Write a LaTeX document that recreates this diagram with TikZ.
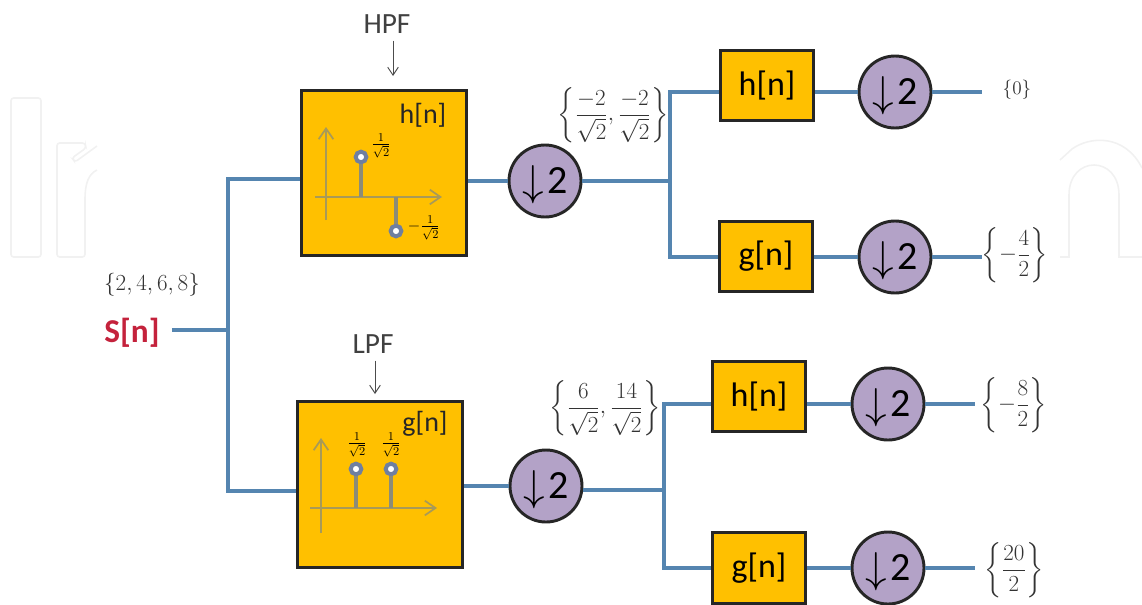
\documentclass[tikz,border=0pt]{standalone}
\usepackage{amsmath}
\usepackage{fontspec}
\setmainfont{Carlito}
\usetikzlibrary{arrows.meta,positioning}
\definecolor{boxgold}{HTML}{FFC000}
\definecolor{ringpurple}{HTML}{B3A2C7}
\definecolor{wireblue}{HTML}{5585B0}
\definecolor{axisolive}{HTML}{A89A58}
\definecolor{stemgray}{HTML}{8C8C78}
\definecolor{pinring}{HTML}{6F7FA0}
\definecolor{srcred}{HTML}{C4223C}
\definecolor{markgray}{HTML}{F1F1F1}
\newcommand{\dnsample}{\smash{\raisebox{-1.5pt}{\scalebox{1.3}{$\downarrow$}}}\hspace{2.5pt}2}
\tikzset{
  bigblk/.style={draw=black!85, fill=boxgold, rectangle, line width=2.2pt, minimum width=124pt, minimum height=124pt, inner sep=0pt},
  sblk/.style={draw=black!85, fill=boxgold, rectangle, line width=2.2pt, minimum width=70pt, minimum height=53pt, inner sep=0pt, font=\fontsize{25.5}{28}\selectfont},
  dwn/.style={draw=black!85, fill=ringpurple, circle, line width=2.2pt, minimum size=54pt, inner sep=0pt, font=\fontsize{30}{32}\selectfont},
  wire/.style={draw=wireblue, line width=2.6pt},
  axisln/.style={draw=axisolive, line width=1.3pt, -{Straight Barb[length=8pt,width=11pt]}},
  stem/.style={draw=stemgray, line width=3pt},
  pin/.style={draw=pinring, fill=white, circle, line width=3pt, minimum size=8pt, inner sep=0pt},
  val/.style={text=black!80, font=\fontsize{18}{21}\selectfont, inner sep=0pt},
  tiny/.style={text=black, font=\fontsize{13}{15}\selectfont, inner sep=0pt},
  filt/.style={text=black!85, font=\fontsize{21}{24}\selectfont, inner sep=0pt},
  tag/.style={text=black!75, font=\fontsize{22}{24}\selectfont, inner sep=0pt},
  ptr/.style={-{Straight Barb[length=6pt,width=8pt]}, draw=black!70, line width=0.7pt},
  logo/.style={draw=markgray, line width=1.2pt, rounded corners=2pt},
}
\begin{document}
\begin{tikzpicture}[x=0.75pt,y=-0.75pt]
\useasboundingbox (0,0) rectangle (1142,604);

% Watermark
\draw[logo] (11,98) rectangle (41,257);
\draw[logo] (97,146) -- (75,162) -- (72,158) -- (86,148) -- (85,143) -- (57,143) -- (57,257) -- (85,257) -- (85,200);
\draw[logo, rounded corners=0pt] (85,200) .. controls (85,182) and (89,174) .. (97,170);
\draw[logo, rounded corners=0pt] (1060,160) -- (1072,149) .. controls (1090,136) and (1125,134) .. (1142,168);
\draw[logo, rounded corners=0pt] (1060,257) -- (1069,257) -- (1069,195) .. controls (1069,155) and (1119,155) .. (1119,195) -- (1119,257) -- (1142,257);

% Source
\node[font=\fontsize{25}{28}\selectfont\bfseries, text=srcred, inner sep=0pt] (src) at (132,333) {S[n]};
\node[val] (srcval) at (152,285) {$\{2,4,6,8\}$};
\coordinate (split) at (228,330);

% Filters of the first stage
\node[bigblk] (hpf) at (384,173) {};
\node[bigblk] (lpf) at (380,484.5) {};
\node[tag] (hpftag) at (387,24) {HPF};
\node[tag] (lpftag) at (373,344) {LPF};
\coordinate (hpftip) at (393,76);
\coordinate (lpftip) at (375,394);
\draw[ptr] (hpftag.south -| hpftip) ++(0,7) -- (hpftip);
\draw[ptr] (lpftag.south -| lpftip) ++(0,7) -- (lpftip);
\node[filt] (hname) at (423,115) {h[n]};
\node[filt] (gname) at (425,424) {g[n]};

% Impulse plot, h[n]
\coordinate (horg) at (326,197);
\draw[axisln] (326,220) -- (326,127);
\draw[axisln] (315,197) -- (442,197);
\node[pin] (hp1) at (361,157) {};
\node[pin] (hp2) at (396,231) {};
\draw[stem] (hp1) -- (hp1 |- horg);
\draw[stem] (hp2) -- (hp2 |- horg);
\node[tiny] (hv1) at (381,146) {$\frac{1}{\sqrt{2}}$};
\node[tiny] (hv2) at (424,228) {$-\frac{1}{\sqrt{2}}$};

% Impulse plot, g[n]
\coordinate (gorg) at (321,508);
\draw[axisln] (321,533) -- (321,438);
\draw[axisln] (310,508) -- (437,508);
\node[pin] (gp1) at (356,469) {};
\node[pin] (gp2) at (391,469) {};
\draw[stem] (gp1) -- (gp1 |- gorg);
\draw[stem] (gp2) -- (gp2 |- gorg);
\node[tiny] (gv1) at (357,445) {$\frac{1}{\sqrt{2}}$};
\node[tiny] (gv2) at (391,445) {$\frac{1}{\sqrt{2}}$};

% Downsamplers
\node[dwn] (d1) at (545,181) {\dnsample};
\node[dwn] (d2) at (546,486) {\dnsample};
\node[val] (d1val) at (613,115) {$\left\{\dfrac{-2}{\sqrt{2}},\dfrac{-2}{\sqrt{2}}\right\}$};
\node[val] (d2val) at (605,408) {$\left\{\dfrac{6}{\sqrt{2}},\dfrac{14}{\sqrt{2}}\right\}$};

% Second stage
\node[sblk] (hh) at (767,85.5) {h[n]};
\node[sblk] (hg) at (766,256.5) {g[n]};
\node[sblk] (gh) at (759,396.5) {h[n]};
\node[sblk] (gg) at (759,568) {g[n]};
\node[dwn] (d3) at (895,92) {\dnsample};
\node[dwn] (d4) at (895,257) {\dnsample};
\node[dwn] (d5) at (888,404) {\dnsample};
\node[dwn] (d6) at (888,568) {\dnsample};

% Results
\coordinate (o3) at (982,92);
\coordinate (o4) at (982,257);
\coordinate (o5) at (975,404);
\coordinate (o6) at (975,568);
\node[val, font=\fontsize{15}{18}\selectfont] (v3) at (1017,90) {$\{0\}$};
\node[val] (v4) at (1015,255) {$\left\{-\dfrac{4}{2}\right\}$};
\node[val] (v5) at (1014,405) {$\left\{-\dfrac{8}{2}\right\}$};
\node[val] (v6) at (1014,570) {$\left\{\dfrac{20}{2}\right\}$};

% Wires
\coordinate (hin) at (228,179);
\coordinate (gin) at (228,491);
\coordinate (ufork) at (670,181);
\coordinate (lfork) at (664,490);
\draw[wire] (src.east) ++(12,-3) -- (split);
\draw[wire] (hpf.west |- hin) -- (hin) -- (gin) -- (lpf.west |- gin);
\draw[wire] (hpf.east |- d1) -- (d1);
\draw[wire] (lpf.east |- d2) -- (d2);
\draw[wire] (d1) -- (ufork);
\draw[wire] (d2.east |- lfork) -- (lfork);
\draw[wire] (hh.west |- d3) -- (ufork |- d3) -- (ufork |- d4) -- (hg.west |- d4);
\draw[wire] (gh.west |- d5) -- (lfork |- d5) -- (lfork |- d6) -- (gg.west |- d6);
\draw[wire] (hh.east |- d3) -- (d3);
\draw[wire] (hg.east |- d4) -- (d4);
\draw[wire] (gh.east |- d5) -- (d5);
\draw[wire] (gg.east |- d6) -- (d6);
\draw[wire] (d3) -- (o3);
\draw[wire] (d4) -- (o4);
\draw[wire] (d5) -- (o5);
\draw[wire] (d6) -- (o6);

\end{tikzpicture}
\end{document}
